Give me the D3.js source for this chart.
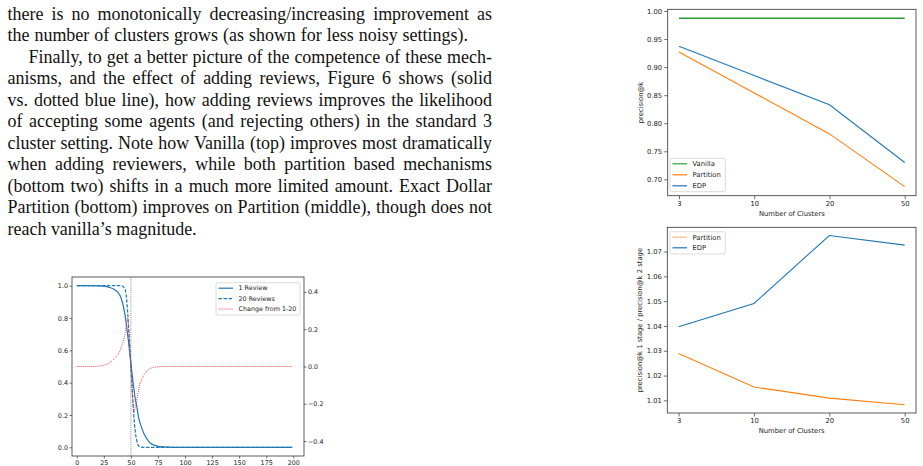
<!DOCTYPE html>
<html>
<head>
<meta charset="utf-8">
<script src="https://cdn.jsdelivr.net/npm/d3@7"></script>
<style>
  body { margin: 0; background: #fff; }
  svg { display: block; }
</style>
</head>
<body>
<div id="page"></div>
<script>
// paragraph text, one entry per printed line
const textLines = [
  "there is no monotonically decreasing/increasing improvement as",
  "the number of clusters grows (as shown for less noisy settings).",
  "Finally, to get a better picture of the competence of these mech-",
  "anisms, and the effect of adding reviews, Figure 6 shows (solid",
  "vs. dotted blue line), how adding reviews improves the likelihood",
  "of accepting some agents (and rejecting others) in the standard 3",
  "cluster setting. Note how Vanilla (top) improves most dramatically",
  "when adding reviewers, while both partition based mechanisms",
  "(bottom two) shifts in a much more limited amount. Exact Dollar",
  "Partition (bottom) improves on Partition (middle), though does not",
  "reach vanilla\u2019s magnitude."
];

// left chart: acceptance probability vs. rank
const rankX      = [0, 10, 20, 25, 30, 35, 40, 42, 44, 45, 46, 47, 48, 49, 50, 51, 52, 53, 54, 55, 56, 57, 58, 60, 62, 65, 67, 70, 75, 80, 90, 100, 199];
const oneReview  = [1, 1, 0.999, 0.997, 0.99, 0.975, 0.94, 0.9, 0.84, 0.8, 0.75, 0.7, 0.64, 0.58, 0.52, 0.46, 0.4, 0.35, 0.3, 0.27, 0.23, 0.19, 0.16, 0.12, 0.085, 0.05, 0.032, 0.017, 0.006, 0.002, 0, 0, 0];
const twentyRev  = [1, 1, 1, 1, 1, 1, 1, 0.998, 0.985, 0.97, 0.92, 0.84, 0.73, 0.62, 0.5, 0.38, 0.27, 0.17, 0.1, 0.055, 0.025, 0.01, 0.004, 0.001, 0, 0, 0, 0, 0, 0, 0, 0, 0];
const changeRev  = [0, 0, 0.002, 0.007, 0.02, 0.045, 0.085, 0.12, 0.16, 0.19, 0.23, 0.26, 0.2, 0.1, 0, -0.1, -0.2, -0.25, -0.22, -0.19, -0.16, -0.13, -0.1, -0.07, -0.045, -0.022, -0.014, -0.006, -0.002, 0, 0, 0, 0];
const rankTicks  = [0, 25, 50, 75, 100, 125, 150, 175, 200];
const probTicks  = [0, 0.2, 0.4, 0.6, 0.8, 1.0];
const changeTicks = [-0.4, -0.2, 0, 0.2, 0.4];

// right charts
const clusters     = ["3", "10", "20", "50"];
const vanillaPrec  = [0.987, 0.987, 0.987, 0.987];
const partitionPrec = [0.927, 0.854, 0.781, 0.687];
const edpPrec      = [0.937, 0.885, 0.833, 0.730];
const precTicks    = [0.70, 0.75, 0.80, 0.85, 0.90, 0.95, 1.00];
const partitionRatio = [1.0289, 1.0154, 1.0109, 1.0082];
const edpRatio       = [1.0397, 1.0491, 1.0765, 1.0726];
const ratioTicks     = [1.01, 1.02, 1.03, 1.04, 1.05, 1.06, 1.07];

const blue = "#1f77b4", orange = "#ff7f0e", green = "#2ca02c", red = "#e8383b";
const chartFont = "DejaVu Sans, sans-serif";

const svg = d3.select("#page").append("svg")
  .attr("width", 923).attr("height", 466);

// ---------- paragraph ----------
const textLeft = 7.5, textRight = 492;
const lineStart = [textLeft, textLeft, textLeft + 21, textLeft, textLeft, textLeft, textLeft, textLeft, textLeft, textLeft, textLeft];
const lineEnd = textLines.map((t, i) => i === 1 ? 468 : i === 10 ? 196.7 : textRight);

const para = svg.append("g")
  .attr("font-family", "Liberation Serif, serif")
  .attr("fill", "#111");

// find a font size so the last (unjustified) line has the right width
let fontSize = 18;
const probe = para.append("text").attr("font-size", fontSize).text(textLines[10]);
fontSize = fontSize * (lineEnd[10] - lineStart[10]) / probe.node().getComputedTextLength();
probe.remove();

textLines.forEach((t, i) => {
  const el = para.append("text")
    .attr("x", lineStart[i])
    .attr("y", 19.8 + i * 21.5)
    .attr("font-size", fontSize)
    .text(t);
  const natural = el.node().getComputedTextLength();
  const spaces = (t.match(/ /g) || []).length;
  if (i !== 10 && spaces > 0) {
    el.attr("word-spacing", ((lineEnd[i] - lineStart[i]) - natural) / spaces);
  }
});

// ---------- helpers ----------
function frame(g, x0, y0, x1, y1) {
  g.append("rect")
    .attr("x", x0).attr("y", y0)
    .attr("width", x1 - x0).attr("height", y1 - y0)
    .attr("fill", "none").attr("stroke", "#333").attr("stroke-width", 0.8);
}

function styleAxis(g, size) {
  g.selectAll(".domain").remove();
  g.selectAll(".tick line").attr("stroke", "#333").attr("stroke-width", 0.7);
  g.selectAll(".tick text").attr("fill", "#222").attr("font-size", size).attr("font-family", chartFont);
}

function legend(g, x, y, w, h, items, size, rowH) {
  const lg = g.append("g");
  lg.append("rect")
    .attr("x", x).attr("y", y).attr("width", w).attr("height", h)
    .attr("rx", 1.5)
    .attr("fill", "#fff").attr("fill-opacity", 0.8)
    .attr("stroke", "#ccc").attr("stroke-width", 0.7);
  items.forEach((it, i) => {
    const cy = y + 5.5 + i * rowH;
    lg.append("line")
      .attr("x1", x + 2.5).attr("x2", x + 17)
      .attr("y1", cy).attr("y2", cy)
      .attr("stroke", it.color).attr("stroke-width", it.width || 1)
      .attr("stroke-opacity", it.opacity || 1)
      .attr("stroke-dasharray", it.dash || null);
    lg.append("text")
      .attr("x", x + 22.5).attr("y", cy)
      .attr("dy", "0.35em")
      .attr("font-size", size).attr("font-family", chartFont)
      .attr("fill", "#222")
      .text(it.label);
  });
}

// ---------- left chart ----------
{
  const L = 72, R = 304, T = 277, B = 456;
  const g = svg.append("g");
  const x = d3.scaleLinear().domain([-4.4, 209.9]).range([L, R]);
  const yL = d3.scaleLinear().domain([-0.054, 1.054]).range([B, T]);
  const yR = d3.scaleLinear().domain([-0.48, 0.48]).range([B, T]);
  const fs = 6.4;

  g.append("g").attr("transform", `translate(0,${B})`)
    .call(d3.axisBottom(x).tickValues(rankTicks).tickSize(2.5).tickPadding(1.5).tickFormat(d3.format("d")))
    .call(a => styleAxis(a, fs));
  g.append("g").attr("transform", `translate(${L},0)`)
    .call(d3.axisLeft(yL).tickValues(probTicks).tickSize(2.5).tickPadding(1.5).tickFormat(d3.format(".1f")))
    .call(a => styleAxis(a, fs));
  g.append("g").attr("transform", `translate(${R},0)`)
    .call(d3.axisRight(yR).tickValues(changeTicks).tickSize(2.5).tickPadding(1.5).tickFormat(d3.format(".1f")))
    .call(a => styleAxis(a, fs));

  const lineL = d3.line().x((d, i) => x(rankX[i])).y(d => yL(d)).curve(d3.curveMonotoneX);
  const lineR = d3.line().x((d, i) => x(rankX[i])).y(d => yR(d)).curve(d3.curveMonotoneX);

  g.append("line")
    .attr("x1", x(50)).attr("x2", x(50)).attr("y1", T).attr("y2", B)
    .attr("stroke", "#444").attr("stroke-width", 0.7).attr("stroke-dasharray", "0.8,1.1");

  g.append("path").datum(oneReview).attr("d", lineL)
    .attr("fill", "none").attr("stroke", blue).attr("stroke-width", 1.2);
  g.append("path").datum(twentyRev).attr("d", lineL)
    .attr("fill", "none").attr("stroke", blue).attr("stroke-width", 1.2).attr("stroke-dasharray", "3.5,1.5");
  g.append("path").datum(changeRev).attr("d", lineR)
    .attr("fill", "none").attr("stroke", red).attr("stroke-width", 1).attr("stroke-dasharray", "0.9,1.1");

  frame(g, L, T, R, B);

  legend(g, 216, 282.7, 84, 32.3, [
    { label: "1 Review", color: blue, width: 1.2 },
    { label: "20 Reviews", color: blue, dash: "3.5,1.5", width: 1.2 },
    { label: "Change from 1-20", color: red, dash: "0.9,1.1", width: 1 }
  ], fs, 10.4);
}

// ---------- right charts ----------
function clusterChart(L, R, T, B, domain, ticks, series, labelY, legendBox, legendRow) {
  const g = svg.append("g");
  const fs = 6.8;
  const x = d3.scalePoint().domain(clusters).range([L, R]).padding(0.15);
  const y = d3.scaleLinear().domain(domain).range([B, T]);

  g.append("g").attr("transform", `translate(0,${B})`)
    .call(d3.axisBottom(x).tickSize(3.5).tickPadding(2))
    .call(a => styleAxis(a, fs));
  g.append("g").attr("transform", `translate(${L},0)`)
    .call(d3.axisLeft(y).tickValues(ticks).tickSize(3.5).tickPadding(2).tickFormat(d3.format(".2f")))
    .call(a => styleAxis(a, fs));

  const line = d3.line().x((d, i) => x(clusters[i])).y(d => y(d));
  series.forEach(s => {
    g.append("path").datum(s.values).attr("d", line)
      .attr("fill", "none").attr("stroke", s.color).attr("stroke-width", s.width || 1.1);
  });

  frame(g, L, T, R, B);

  g.append("text")
    .attr("x", (L + R) / 2).attr("y", B + 20)
    .attr("text-anchor", "middle")
    .attr("font-size", fs).attr("font-family", chartFont).attr("fill", "#222")
    .text("Number of Clusters");
  g.append("text")
    .attr("transform", `translate(${L - 25},${(T + B) / 2}) rotate(-90)`)
    .attr("text-anchor", "middle")
    .attr("font-size", fs).attr("font-family", chartFont).attr("fill", "#222")
    .text(labelY);

  legend(g, legendBox[0], legendBox[1], legendBox[2], legendBox[3],
    series.slice().reverse().map(s => ({ label: s.label, color: s.color, opacity: s.legendOpacity, width: 1.2 })),
    fs, legendRow);
}

clusterChart(667.7, 916, 9.3, 195.7, [0.6709, 1.0030], precTicks, [
  { label: "EDP", values: edpPrec, color: blue },
  { label: "Partition", values: partitionPrec, color: orange },
  { label: "Vanilla", values: vanillaPrec, color: green, width: 1.4 }
], "precision@k", [670, 158.3, 55.3, 33.4], 11);

clusterChart(667.3, 916, 227.3, 413, [1.0049, 1.0798], ratioTicks, [
  { label: "EDP", values: edpRatio, color: blue },
  { label: "Partition", values: partitionRatio, color: orange, legendOpacity: 0.55 }
], "precision@k 1 stage / precision@k 2 stage", [670, 231.7, 55.3, 22.3], 10.6);
</script>
</body>
</html>
